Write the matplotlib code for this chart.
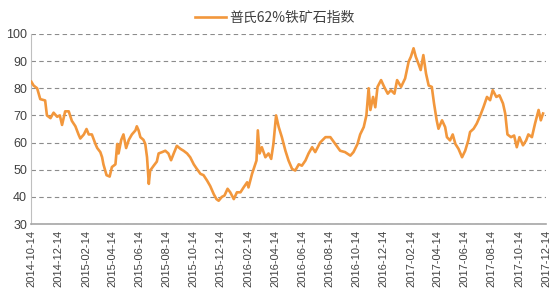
import matplotlib
matplotlib.use("Agg")
import matplotlib.pyplot as plt
import matplotlib.dates as mdates
import pandas as pd

plt.rcParams["font.family"] = ["Noto Sans CJK SC", "DejaVu Sans"]
plt.rcParams["axes.unicode_minus"] = False

# 普氏62%铁矿石指数
dates = [
    "2014-10-14", "2014-10-19", "2014-10-27", "2014-11-03", "2014-11-14", "2014-11-18",
    "2014-11-26", "2014-12-03", "2014-12-11", "2014-12-17", "2014-12-22", "2014-12-29",
    "2015-01-06", "2015-01-13", "2015-01-21", "2015-01-28", "2015-02-01", "2015-02-09",
    "2015-02-15", "2015-02-20", "2015-02-27", "2015-03-07", "2015-03-11", "2015-03-18",
    "2015-03-22", "2015-03-25", "2015-04-01", "2015-04-08", "2015-04-13", "2015-04-21",
    "2015-04-25", "2015-04-28", "2015-05-04", "2015-05-09", "2015-05-15", "2015-05-21",
    "2015-05-28", "2015-06-05", "2015-06-08", "2015-06-12", "2015-06-16", "2015-06-23",
    "2015-06-27", "2015-07-01", "2015-07-05", "2015-07-08", "2015-07-16", "2015-07-23",
    "2015-07-27", "2015-08-04", "2015-08-11", "2015-08-18", "2015-08-24", "2015-08-30",
    "2015-09-06", "2015-09-14", "2015-09-21", "2015-09-29", "2015-10-06", "2015-10-14",
    "2015-10-21", "2015-10-29", "2015-11-05", "2015-11-13", "2015-11-20", "2015-11-28",
    "2015-12-04", "2015-12-09", "2015-12-16", "2015-12-22", "2015-12-29", "2016-01-04",
    "2016-01-12", "2016-01-19", "2016-01-27", "2016-02-03", "2016-02-11", "2016-02-14",
    "2016-02-22", "2016-02-27", "2016-03-03", "2016-03-06", "2016-03-10", "2016-03-15",
    "2016-03-23", "2016-03-30", "2016-04-05", "2016-04-10", "2016-04-16", "2016-04-22",
    "2016-04-29", "2016-05-07", "2016-05-14", "2016-05-22", "2016-05-29", "2016-06-06",
    "2016-06-13", "2016-06-21", "2016-06-28", "2016-07-06", "2016-07-13", "2016-07-24",
    "2016-08-05", "2016-08-16", "2016-08-27", "2016-09-07", "2016-09-18", "2016-09-30",
    "2016-10-07", "2016-10-16", "2016-10-22", "2016-10-30", "2016-11-05", "2016-11-10",
    "2016-11-14", "2016-11-20", "2016-11-25", "2016-11-30", "2016-12-08", "2016-12-15",
    "2016-12-23", "2016-12-30", "2017-01-07", "2017-01-13", "2017-01-22", "2017-01-31",
    "2017-02-08", "2017-02-13", "2017-02-19", "2017-02-24", "2017-03-02", "2017-03-07",
    "2017-03-13", "2017-03-19", "2017-03-25", "2017-04-01", "2017-04-06", "2017-04-12",
    "2017-04-16", "2017-04-24", "2017-05-01", "2017-05-05", "2017-05-12", "2017-05-18",
    "2017-05-24", "2017-05-31", "2017-06-08", "2017-06-15", "2017-06-22", "2017-06-26",
    "2017-07-04", "2017-07-11", "2017-07-19", "2017-07-26", "2017-08-03", "2017-08-10",
    "2017-08-16", "2017-08-24", "2017-08-31", "2017-09-08", "2017-09-13", "2017-09-18",
    "2017-09-26", "2017-10-03", "2017-10-09", "2017-10-15", "2017-10-23", "2017-10-30",
    "2017-11-04", "2017-11-12", "2017-11-19", "2017-11-27", "2017-12-02", "2017-12-07",
]
index_values = [
    82.4, 81.0, 80.0, 76.0, 75.5, 70.0,
    69.0, 71.0, 69.5, 70.0, 66.5, 71.5,
    71.5, 68.0, 66.0, 63.0, 61.5, 63.0,
    65.0, 63.0, 63.0, 59.5, 58.0, 56.5,
    54.6, 52.0, 48.0, 47.5, 51.0, 52.0,
    59.5, 56.0, 61.0, 63.0, 58.0, 61.0,
    63.0, 64.5, 66.0, 64.5, 62.0, 61.0,
    59.5, 54.6, 44.8, 49.7, 51.5, 53.0,
    56.0, 56.5, 57.0, 56.0, 53.5, 56.0,
    58.8, 57.7, 57.0, 56.0, 54.6, 52.0,
    50.3, 48.5, 48.0, 46.0, 44.0, 41.0,
    39.2, 38.6, 40.0, 40.5, 43.0, 41.7,
    39.2, 41.7, 41.7, 43.5, 45.4, 43.5,
    48.5, 51.0, 53.4, 64.5, 56.0, 58.3,
    54.6, 56.0, 54.0, 59.5, 70.0, 65.7,
    62.0, 57.0, 53.4, 50.3, 49.7, 52.0,
    51.5, 53.4, 56.0, 58.3, 56.5, 60.0,
    62.0, 62.0, 59.5, 57.0, 56.5, 55.2,
    56.5, 59.5, 63.0, 65.7, 70.0, 80.0,
    72.0, 76.8, 73.0, 80.5, 83.0, 80.5,
    78.0, 79.3, 78.0, 83.0, 80.5, 83.6,
    89.8, 91.6, 94.7, 91.6, 89.0, 86.7,
    92.2, 85.4, 81.0, 80.5, 74.4, 68.2,
    65.1, 68.2, 65.7, 62.0, 60.8, 63.0,
    59.5, 57.7, 54.6, 57.0, 60.8, 63.9,
    65.1, 67.0, 70.0, 73.0, 76.8, 75.6,
    79.3, 76.8, 77.4, 74.4, 70.7, 63.0,
    62.0, 62.6, 58.3, 62.0, 59.0, 60.8,
    63.0, 62.0, 67.0, 72.0, 68.2, 70.7,
]
tick_labels = [
    "2014-10-14", "2014-12-14", "2015-02-14", "2015-04-14", "2015-06-14",
    "2015-08-14", "2015-10-14", "2015-12-14", "2016-02-14", "2016-04-14",
    "2016-06-14", "2016-08-14", "2016-10-14", "2016-12-14", "2017-02-14",
    "2017-04-14", "2017-06-14", "2017-08-14", "2017-10-14", "2017-12-14",
]
series_name = "普氏62%铁矿石指数"

x = pd.to_datetime(dates)
ticks = pd.to_datetime(tick_labels)

fig = plt.figure(figsize=(5.5, 3), dpi=100)
ax = fig.add_axes([0.057, 0.253, 0.936, 0.634])

ax.plot(x, index_values, color="#F2973C", linewidth=1.9, label=series_name, zorder=3)

ax.set_ylim(30, 100)
ax.set_yticks(range(30, 101, 10))
ax.set_xlim(ticks[0], ticks[-1])
ax.set_xticks(ticks)
ax.xaxis.set_major_formatter(mdates.DateFormatter("%Y-%m-%d"))
plt.setp(ax.get_xticklabels(), rotation=90, family=["Liberation Sans", "DejaVu Sans"])
plt.setp(ax.get_yticklabels(), family=["Liberation Sans", "DejaVu Sans"])

ax.tick_params(axis="x", length=0, labelsize=8, colors="#404040", pad=4)
ax.tick_params(axis="y", length=0, labelsize=9, colors="#404040", pad=3)

ax.yaxis.grid(True, color="#8C8C8C", linestyle=(0, (4, 3)), linewidth=0.8)
ax.set_axisbelow(True)
for side in ["top", "right"]:
    ax.spines[side].set_visible(False)
ax.spines["left"].set_color("#BFBFBF")
ax.spines["bottom"].set_color("#A6A6A6")
ax.spines["bottom"].set_linewidth(1.2)

fig.legend(loc="center", bbox_to_anchor=(0.5, 0.94), frameon=False,
           fontsize=10, handlelength=2.2, handletextpad=0.3, labelcolor="#404040")

fig.savefig("out.png", dpi=100, facecolor="white")
plt.close(fig)
